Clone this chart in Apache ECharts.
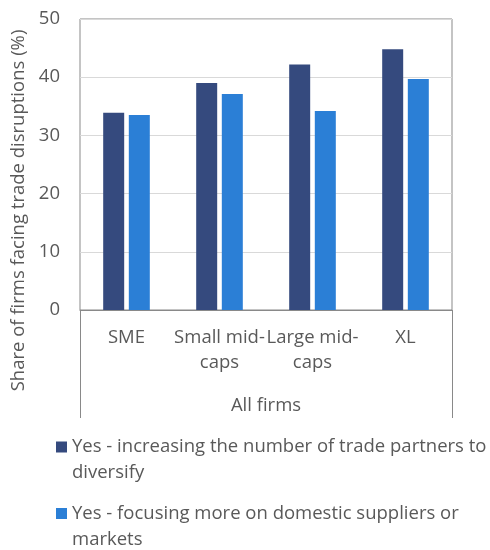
<!DOCTYPE html>
<html>
<head>
<meta charset="utf-8">
<script src="https://cdn.jsdelivr.net/npm/echarts@6/dist/echarts.min.js"></script>
<style>
  html, body { margin: 0; padding: 0; background: #fff; }
  #chart { width: 490px; height: 550px; }
</style>
</head>
<body>
<div id="chart"></div>
<script>
// data
var categories = ['SME', 'Small mid-\ncaps', 'Large mid-\ncaps', 'XL']
var groupLabel = ['All firms']
var seriesNames = [
  'Yes - increasing the number of trade partners to diversify',
  'Yes - focusing more on domestic suppliers or markets'
]
// leading empty line keeps the first text line level with the square
var legendLabels = [
  '\nYes - increasing the number of trade partners to\ndiversify',
  '\nYes - focusing more on domestic suppliers or\nmarkets'
]
var partnersValues = [33.9, 39.0, 42.2, 44.8]
var domesticValues = [33.5, 37.1, 34.2, 39.7]
var yTicks = [0, 10, 20, 30, 40, 50]

var textColor = '#595959'
var lineColor = '#898989'
var fontFamily = '"Open Sans", sans-serif'
var fontSize = 18.5

var myChart = echarts.init(document.getElementById('chart'))

function legendFor (idx, top) {
  return {
    show: true,
    data: [seriesNames[idx]],
    left: 56,
    top: top,
    padding: 0,
    itemWidth: 11,
    itemHeight: 11,
    itemGap: 0,
    icon: 'rect',
    selectedMode: false,
    formatter: function (name) {
      return legendLabels[seriesNames.indexOf(name)]
    },
    textStyle: {
      color: textColor,
      fontFamily: fontFamily,
      fontSize: fontSize,
      lineHeight: 26
    }
  }
}

var option = {
  backgroundColor: '#fff',
  animation: false,
  textStyle: { fontFamily: fontFamily },
  legend: [legendFor(0, 408), legendFor(1, 474.5)],
  grid: {
    left: 80,
    right: 38,
    top: 19,
    bottom: 240,
    show: true,
    borderColor: lineColor,
    borderWidth: 1,
    containLabel: false
  },
  xAxis: [
    {
      type: 'category',
      data: categories,
      axisLine: { show: true, lineStyle: { color: lineColor, width: 1 } },
      axisTick: { show: false },
      splitLine: { show: false },
      axisLabel: {
        interval: 0,
        color: textColor,
        fontSize: fontSize,
        lineHeight: 25,
        margin: 15
      }
    },
    {
      type: 'category',
      data: groupLabel,
      position: 'bottom',
      offset: 108,
      axisLine: { show: false },
      axisTick: {
        show: true,
        inside: true,
        length: 108,
        lineStyle: { color: lineColor, width: 1 }
      },
      splitLine: { show: false },
      axisLabel: {
        inside: true,
        margin: 3,
        color: textColor,
        fontSize: fontSize
      }
    }
  ],
  yAxis: {
    type: 'value',
    min: yTicks[0],
    max: yTicks[yTicks.length - 1],
    interval: 10,
    name: 'Share of firms facing trade disruptions (%)',
    nameLocation: 'middle',
    nameGap: 51,
    nameTextStyle: {
      color: textColor,
      fontSize: fontSize,
      padding: [0, 92, 0, 0]
    },
    axisLine: { show: false },
    axisTick: { show: false },
    splitLine: { lineStyle: { color: '#D9D9D9', width: 1 } },
    axisLabel: {
      color: textColor,
      fontSize: fontSize,
      margin: 20
    }
  },
  series: [
    {
      name: seriesNames[0],
      type: 'bar',
      data: partnersValues,
      barWidth: 21,
      barGap: '22%',
      itemStyle: { color: '#354A7E' }
    },
    {
      name: seriesNames[1],
      type: 'bar',
      data: domesticValues,
      barWidth: 21,
      barGap: '22%',
      itemStyle: { color: '#2B7FD6' }
    }
  ]
}

myChart.setOption(option)
</script>
</body>
</html>
